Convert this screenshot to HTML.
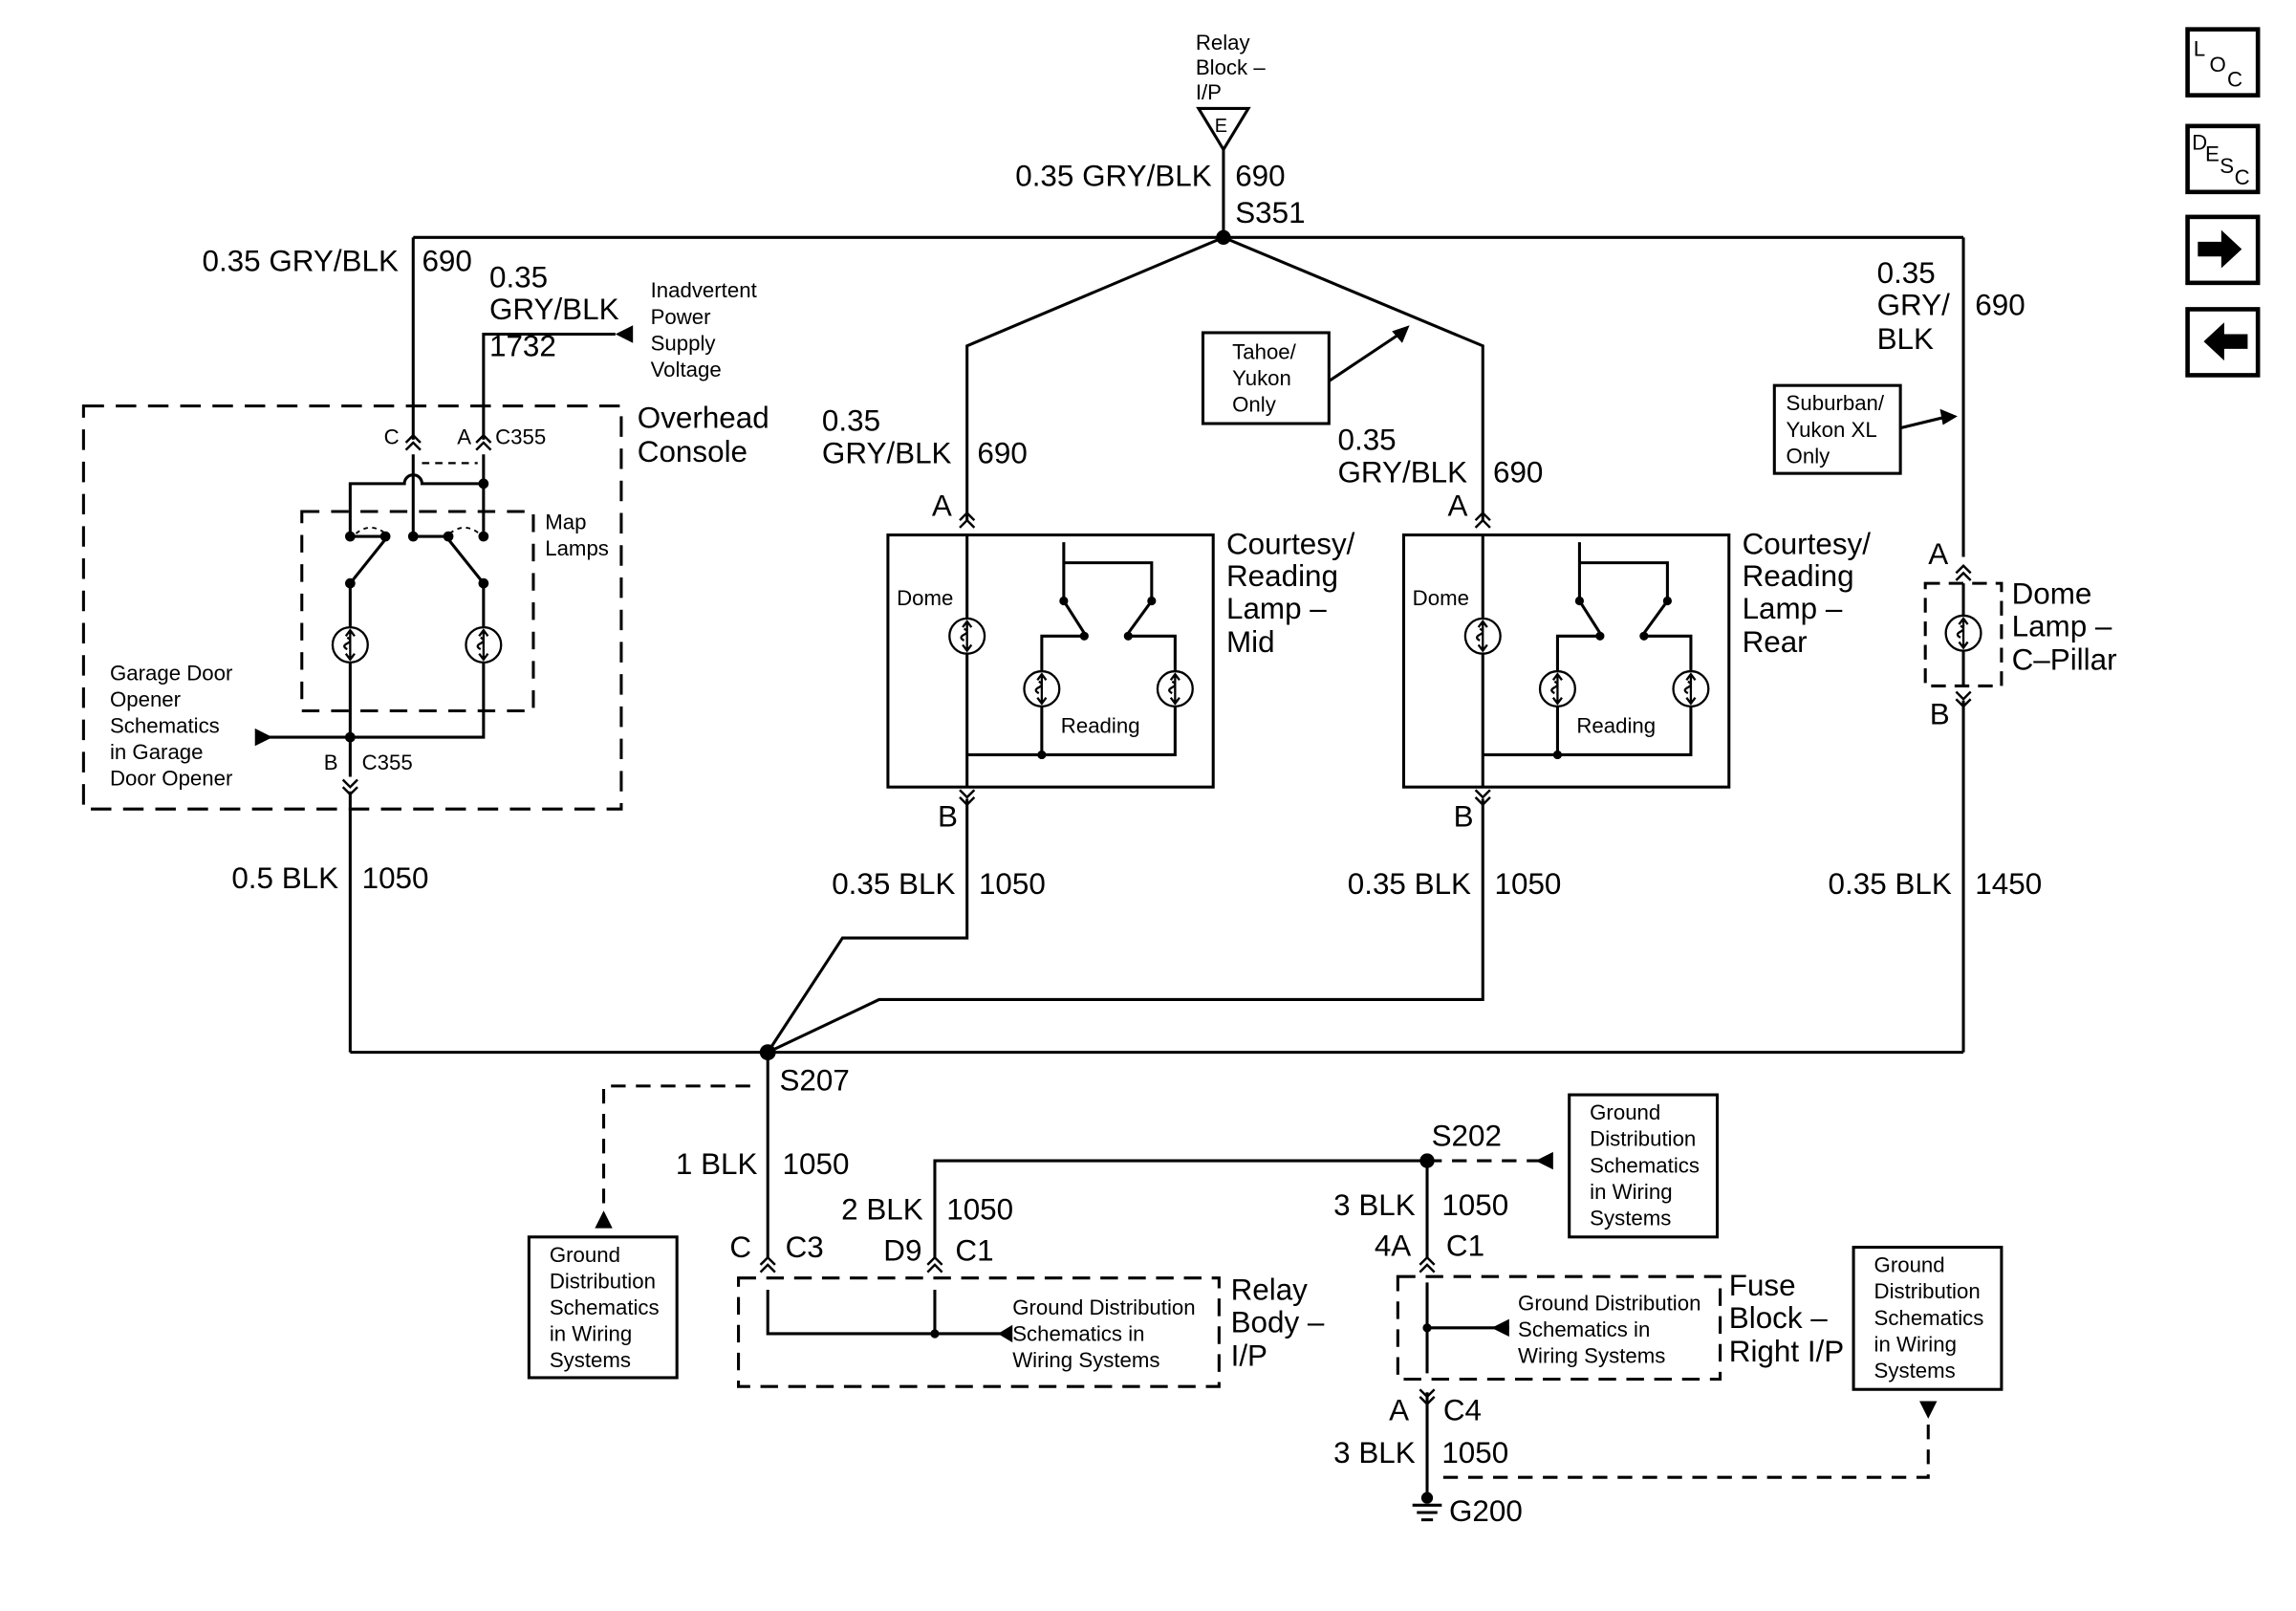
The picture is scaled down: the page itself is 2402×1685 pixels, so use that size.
<!DOCTYPE html>
<html><head><meta charset="utf-8"><style>
html,body{margin:0;padding:0;background:#fff;}
svg{display:block;}
text{font-family:"Liberation Sans",Arial,sans-serif;fill:#000;}
.b{font-size:20.5px;}
.s{font-size:14.5px;}
</style></head><body>
<svg width="2402" height="1685" viewBox="0 0 1567 1099.2" preserveAspectRatio="none" xmlns="http://www.w3.org/2000/svg">
<defs>
<g id="ch" fill="none" stroke="#000" stroke-width="1.6"><path d="M-5,5 L0,0 L5,5 M-5,10 L0,5 L5,10"/></g>
<g id="chd" fill="none" stroke="#000" stroke-width="1.6"><path d="M-5,-5 L0,0 L5,-5 M-5,-10 L0,-5 L5,-10"/></g>
<g id="bulb" fill="none" stroke="#000" stroke-width="1.5"><circle r="12" fill="#fff"/><path d="M0,-9 L0,9 M-2,-5 q4,2 0,4 q-4,2 0,4 M-3,-6 L0,-10 L3,-6 M-3,6 L0,10 L3,6"/></g>
</defs>
<g stroke="#000" stroke-width="2" fill="none">
<path d="M818,74 L852,74 L835,102 Z"/>
<path d="M835,102 V162 M282,162 H1340 M282,162 V300 M330,300 V228 H420"/>
<path d="M835,162 L660,236 V355 M835,162 L1012,236 V355"/>
<path d="M1340,162 V380"/>
<rect x="57" y="277" width="367" height="275" stroke-dasharray="14,8"/>
<rect x="206" y="349" width="158" height="136" stroke-dasharray="12,8"/>
<path d="M282,310 V366 M330,310 V366 M239,366 V330 H276 a6,6 0 0 1 12,0 H330 M239,366 L263,366 M282,366 H306"/>
<path d="M288,316 H326" stroke-dasharray="5,4" stroke-width="1.5"/>
<path d="M239,398 L263,368 M330,398 L306,368"/>
<path d="M239,398 V428 M239,452 V503 M330,398 V428 M330,452 V503 H180 M239,503 V530 M239,540 V718"/>
<path d="M243,364 q10,-8 20,0 M307,364 q10,-8 20,0" stroke-dasharray="3,3" stroke-width="1.2"/>
<rect x="606" y="365" width="222" height="172"/>
<path d="M660,365 V422 M660,446 V537 M660,515 H802 V482 M711,515 V482 M711,458 V434 H740 M802,458 V434 H770 M726,370 V384 H786 V410 M726,384 V410 L740,432 M786,410 L770,432"/>
<path d="M660,545 V640 H575 L524,718"/>
<rect x="958" y="365" width="222" height="172"/>
<path d="M1012,365 V422 M1012,446 V537 M1012,515 H1154 V482 M1063,515 V482 M1063,458 V434 H1092 M1154,458 V434 H1122 M1078,370 V384 H1138 V410 M1078,384 V410 L1092,432 M1138,410 L1122,432"/>
<path d="M1012,545 V682 H600 L524,718"/>
<rect x="1314" y="398" width="52" height="70" stroke-dasharray="10,6"/>
<path d="M1340,398 V420 M1340,444 V468 M1340,478 V718"/>
<path d="M239,718 H1340 M524,718 V858"/>
<path d="M512,741 H412 V830" stroke-dasharray="10,7"/>
<rect x="361" y="844" width="101" height="96"/>
<rect x="504" y="872" width="328" height="74" stroke-dasharray="12,7"/>
<path d="M524,880 V910 H687 M638,880 V910"/>
<path d="M638,858 V792 H974 V858"/>
<path d="M974,792 H1052" stroke-dasharray="10,7"/>
<rect x="1071" y="747" width="101" height="97"/>
<rect x="954" y="871" width="220" height="70" stroke-dasharray="12,7"/>
<path d="M974,875 V937 M974,906 H1030 M974,950 V1025"/>
<path d="M985,1008 H1316 V968" stroke-dasharray="10,7"/>
<rect x="1265" y="851" width="101" height="97"/>
<path d="M964,1027 H984 M967,1032 H981 M970,1037 H978"/>
<rect x="821" y="227" width="86" height="62"/>
<path d="M907,260 L955,228"/>
<rect x="1211" y="263" width="86" height="60"/>
<path d="M1297,292 L1330,284"/>
<rect x="1493" y="20" width="48" height="45" stroke-width="3"/>
<rect x="1493" y="86" width="48" height="45" stroke-width="3"/>
<rect x="1493" y="148" width="48" height="45" stroke-width="3"/>
<rect x="1493" y="211" width="48" height="45" stroke-width="3"/>
</g>
<g fill="#000">
<circle cx="835" cy="162" r="5"/><circle cx="524" cy="718" r="5.5"/><circle cx="974" cy="792" r="5"/>
<circle cx="239" cy="366" r="3.5"/><circle cx="263" cy="366" r="3.5"/><circle cx="282" cy="366" r="3.5"/><circle cx="306" cy="366" r="3.5"/><circle cx="330" cy="366" r="3.5"/>
<circle cx="239" cy="398" r="3.5"/><circle cx="330" cy="398" r="3.5"/><circle cx="330" cy="330" r="3.5"/><circle cx="239" cy="503" r="3.5"/>
<circle cx="711" cy="515" r="3"/><circle cx="726" cy="410" r="3"/><circle cx="786" cy="410" r="3"/><circle cx="740" cy="434" r="3"/><circle cx="770" cy="434" r="3"/>
<circle cx="1063" cy="515" r="3"/><circle cx="1078" cy="410" r="3"/><circle cx="1138" cy="410" r="3"/><circle cx="1092" cy="434" r="3"/><circle cx="1122" cy="434" r="3"/>
<circle cx="638" cy="910" r="3"/><circle cx="974" cy="906" r="3"/><circle cx="974" cy="1022" r="4"/>
<path d="M432,222 L420,228 L432,234 Z"/>
<path d="M174,497 L186,503 L174,509 Z"/>
<path d="M962,222 L950,226 L957,234 Z"/>
<path d="M1336,284 L1324,279 L1326,290 Z"/>
<path d="M406,838 L412,826 L418,838 Z"/>
<path d="M681,904 L691,910 L681,916 Z" transform="rotate(180 686 910)"/>
<path d="M1060,786 L1048,792 L1060,798 Z"/>
<path d="M1030,900 L1018,906 L1030,912 Z"/>
<path d="M1310,956 L1322,956 L1316,968 Z"/>
<path d="M1500,165 h16 v-8 l14,13 l-14,13 v-8 h-16 Z"/>
<path d="M1534,228 h-16 v-8 l-14,13 l14,13 v-8 h16 Z"/>
</g>
<g>
<use href="#ch" x="282" y="297"/><use href="#ch" x="330" y="297"/><use href="#chd" x="239" y="542"/>
<use href="#ch" x="660" y="350"/><use href="#chd" x="660" y="549"/>
<use href="#ch" x="1012" y="350"/><use href="#chd" x="1012" y="549"/>
<use href="#ch" x="1340" y="386"/><use href="#chd" x="1340" y="482"/>
<use href="#ch" x="524" y="858"/><use href="#ch" x="638" y="858"/><use href="#ch" x="974" y="858"/><use href="#chd" x="974" y="958"/>
<use href="#bulb" x="239" y="440"/><use href="#bulb" x="330" y="440"/>
<use href="#bulb" x="660" y="434"/><use href="#bulb" x="711" y="470"/><use href="#bulb" x="802" y="470"/>
<use href="#bulb" x="1012" y="434"/><use href="#bulb" x="1063" y="470"/><use href="#bulb" x="1154" y="470"/>
<use href="#bulb" x="1340" y="432"/>
</g>
<g class="s">
<text x="816" y="34">Relay</text><text x="816" y="51">Block –</text><text x="816" y="68">I/P</text>
<text x="829" y="90" font-size="13">E</text>
<text x="444" y="203">Inadvertent</text><text x="444" y="221">Power</text><text x="444" y="239">Supply</text><text x="444" y="257">Voltage</text>
<text x="262" y="303">C</text><text x="312" y="303">A</text><text x="338" y="303">C355</text>
<text x="372" y="361">Map</text><text x="372" y="379">Lamps</text>
<text x="75" y="464">Garage Door</text><text x="75" y="482">Opener</text><text x="75" y="500">Schematics</text><text x="75" y="518">in Garage</text><text x="75" y="536">Door Opener</text>
<text x="221" y="525">B</text><text x="247" y="525">C355</text>
<text x="612" y="413">Dome</text><text x="724" y="500">Reading</text>
<text x="964" y="413">Dome</text><text x="1076" y="500">Reading</text>
<text x="841" y="245">Tahoe/</text><text x="841" y="263">Yukon</text><text x="841" y="281">Only</text>
<text x="1219" y="280">Suburban/</text><text x="1219" y="298">Yukon XL</text><text x="1219" y="316">Only</text>
<text x="375" y="861">Ground</text><text x="375" y="879">Distribution</text><text x="375" y="897">Schematics</text><text x="375" y="915">in Wiring</text><text x="375" y="933">Systems</text>
<text x="691" y="897">Ground Distribution</text><text x="691" y="915">Schematics in</text><text x="691" y="933">Wiring Systems</text>
<text x="1085" y="764">Ground</text><text x="1085" y="782">Distribution</text><text x="1085" y="800">Schematics</text><text x="1085" y="818">in Wiring</text><text x="1085" y="836">Systems</text>
<text x="1036" y="894">Ground Distribution</text><text x="1036" y="912">Schematics in</text><text x="1036" y="930">Wiring Systems</text>
<text x="1279" y="868">Ground</text><text x="1279" y="886">Distribution</text><text x="1279" y="904">Schematics</text><text x="1279" y="922">in Wiring</text><text x="1279" y="940">Systems</text>
<text x="1497" y="38">L</text><text x="1508" y="49">O</text><text x="1520" y="59">C</text>
<text x="1496" y="102">D</text><text x="1505" y="110">E</text><text x="1515" y="118">S</text><text x="1525" y="126">C</text>
</g>
<g class="b">
<text x="827" y="127" text-anchor="end">0.35 GRY/BLK</text><text x="843" y="127">690</text><text x="843" y="152">S351</text>
<text x="272" y="185" text-anchor="end">0.35 GRY/BLK</text><text x="288" y="185">690</text>
<text x="334" y="196">0.35</text><text x="334" y="218">GRY/BLK</text><text x="334" y="243">1732</text>
<text x="435" y="292">Overhead</text><text x="435" y="315">Console</text>
<text x="231" y="606" text-anchor="end">0.5 BLK</text><text x="247" y="606">1050</text>
<text x="561" y="294">0.35</text><text x="561" y="316">GRY/BLK</text><text x="667" y="316">690</text>
<text x="636" y="352">A</text><text x="640" y="564">B</text>
<text x="837" y="378">Courtesy/</text><text x="837" y="400">Reading</text><text x="837" y="422">Lamp –</text><text x="837" y="445">Mid</text>
<text x="652" y="610" text-anchor="end">0.35 BLK</text><text x="668" y="610">1050</text>
<text x="913" y="307">0.35</text><text x="913" y="329">GRY/BLK</text><text x="1019" y="329">690</text>
<text x="988" y="352">A</text><text x="992" y="564">B</text>
<text x="1189" y="378">Courtesy/</text><text x="1189" y="400">Reading</text><text x="1189" y="422">Lamp –</text><text x="1189" y="445">Rear</text>
<text x="1004" y="610" text-anchor="end">0.35 BLK</text><text x="1020" y="610">1050</text>
<text x="1281" y="193">0.35</text><text x="1281" y="215">GRY/</text><text x="1281" y="238">BLK</text><text x="1348" y="215">690</text>
<text x="1316" y="385">A</text><text x="1317" y="494">B</text>
<text x="1373" y="412">Dome</text><text x="1373" y="434">Lamp –</text><text x="1373" y="457">C–Pillar</text>
<text x="1332" y="610" text-anchor="end">0.35 BLK</text><text x="1348" y="610">1450</text>
<text x="532" y="744">S207</text>
<text x="517" y="801" text-anchor="end">1 BLK</text><text x="534" y="801">1050</text>
<text x="498" y="858">C</text><text x="536" y="858">C3</text>
<text x="630" y="832" text-anchor="end">2 BLK</text><text x="646" y="832">1050</text>
<text x="603" y="860">D9</text><text x="652" y="860">C1</text>
<text x="840" y="887">Relay</text><text x="840" y="909">Body –</text><text x="840" y="932">I/P</text>
<text x="977" y="782">S202</text>
<text x="966" y="829" text-anchor="end">3 BLK</text><text x="984" y="829">1050</text>
<text x="938" y="857">4A</text><text x="987" y="857">C1</text>
<text x="1180" y="884">Fuse</text><text x="1180" y="906">Block –</text><text x="1180" y="929">Right I/P</text>
<text x="948" y="969">A</text><text x="985" y="969">C4</text>
<text x="966" y="998" text-anchor="end">3 BLK</text><text x="984" y="998">1050</text>
<text x="989" y="1038">G200</text>
</g>
</svg>
</body></html>
